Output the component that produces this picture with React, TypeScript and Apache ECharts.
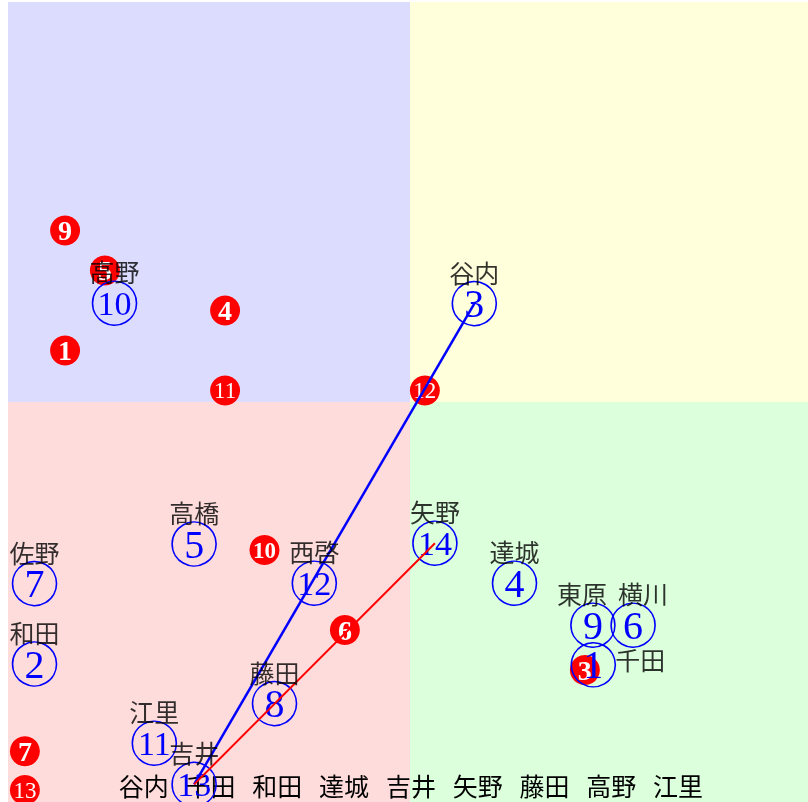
import React, { useEffect, useRef } from "react";
import * as echarts from "echarts";

// Blue (hollow circled) items
const blueNums = [10, 3, 5, 14, 7, 12, 4, 9, 6, 1, 2, 8, 11, 13];
const blueX = [2.65, 11.6, 4.63, 10.62, 0.66, 7.62, 12.6, 14.55, 15.55, 14.56, 0.66, 6.63, 3.64, 4.63];
const blueY = [12.47, 12.46, 6.45, 6.47, 5.46, 5.47, 5.47, 4.42, 4.42, 3.43, 3.45, 2.46, 1.47, 0.44];
const blueNames = ["高野", "谷内", "高橋", "矢野", "佐野", "西啓", "達城", "東原", "横川", "千田", "和田", "藤田", "江里", "吉井"];

// Red (filled circled) items
const redNums = [9, 5, 4, 1, 11, 12, 10, 6, 3, 7, 13];
const redX = [1.42, 2.41, 5.4, 1.42, 5.4, 10.37, 6.38, 8.38, 14.35, 0.42, 0.42];
const redY = [14.29, 13.29, 12.29, 11.29, 10.29, 10.29, 6.3, 4.3, 3.3, 1.27, 0.3];

// Connecting lines (by blue number): from 13 to 3 (blue), from 13 to 14 (red)
const blueLinePair = [13, 3];
const redLinePair = [13, 14];

// Bottom row words
const bottomWords = ["谷内", "千田", "和田", "達城", "吉井", "矢野", "藤田", "高野", "江里"];

// Quadrants [x0, y0, x1, y1, color]
const quadrants: [number, number, number, number, string][] = [
  [0, 10, 10, 20, "#dcdcff"],
  [10, 10, 20, 20, "#ffffdc"],
  [0, 0, 10, 10, "#ffdcdc"],
  [10, 0, 20, 10, "#dcffdc"],
];

const CJK = '"Noto Sans CJK JP", "Noto Sans CJK SC", sans-serif';
const SERIF = '"Liberation Serif", "DejaVu Serif", serif';

function bluePoint(n: number): [number, number] {
  const i = blueNums.indexOf(n);
  return [blueX[i], blueY[i]];
}

function nameOffset(name: string): [number, number] {
  if (name === "千田") return [47, -6];
  if (name === "東原") return [-11, -32];
  if (name === "横川") return [10, -32];
  return [0, -32];
}

export default function App() {
  const ref = useRef<HTMLDivElement>(null);
  useEffect(() => {
    if (!ref.current) return;
    const chart = echarts.init(ref.current, undefined, { renderer: "svg" });
    const step = 66.8;
    const firstX = 135.7;
    chart.setOption({
      animation: false,
      grid: { left: 0, right: 0, top: 0, bottom: 0 },
      xAxis: { type: "value", min: 0, max: 20, show: false },
      yAxis: { type: "value", min: 0, max: 20, show: false },
      graphic: bottomWords.map((w, k) => ({
        type: "text",
        z: 3,
        x: firstX + step * k,
        y: 783,
        style: {
          text: w,
          fontSize: 25,
          fontFamily: CJK,
          fill: "#000",
          align: "center",
          verticalAlign: "middle",
        },
      })),
      series: [
        {
          type: "scatter",
          z: 1,
          data: [],
          silent: true,
          markArea: {
            silent: true,
            data: quadrants.map((q) => [
              { coord: [q[0], q[1]], itemStyle: { color: q[4], opacity: 1 } },
              { coord: [q[2], q[3]] },
            ]),
          },
        },
        {
          type: "scatter",
          z: 2,
          symbol: "circle",
          symbolSize: 30,
          itemStyle: { color: "#ff0000", opacity: 1 },
          data: redNums.map((n, i) => ({
            value: [redX[i], redY[i]],
            label: {
              show: true,
              position: "inside",
              formatter: String(n),
              color: "#fff",
              fontFamily: SERIF,
              fontSize: n >= 10 ? 23 : 28,
              fontWeight: n <= 10 ? "bold" : "normal",
            },
          })),
        },
        {
          type: "scatter",
          z: 4,
          symbol: "circle",
          symbolSize: 44,
          itemStyle: { color: "rgba(0,0,0,0)", borderColor: "#0000ff", borderWidth: 1.6, opacity: 1 },
          data: blueNums.map((n, i) => ({
            value: [blueX[i], blueY[i]],
            label: {
              show: true,
              position: "inside",
              formatter: String(n),
              color: "#0000ff",
              fontFamily: SERIF,
              fontSize: n >= 10 ? 34 : 40,
            },
          })),
        },
        {
          type: "line",
          z: 5,
          symbol: "none",
          lineStyle: { color: "#0000ff", width: 2.5 },
          data: blueLinePair.map(bluePoint),
        },
        {
          type: "line",
          z: 5,
          symbol: "none",
          lineStyle: { color: "#ff0000", width: 2 },
          data: redLinePair.map(bluePoint),
        },
        {
          type: "scatter",
          z: 6,
          symbolSize: 1,
          itemStyle: { color: "rgba(0,0,0,0)" },
          data: blueNames.map((name, i) => ({
            value: [blueX[i], blueY[i]],
            label: {
              show: true,
              position: "inside",
              formatter: name,
              color: "#000",
              fontFamily: CJK,
              fontSize: 25,
              offset: nameOffset(name),
            },
          })),
        },
      ],
    });
    return () => chart.dispose();
  }, []);
  return (
    <div style={{ position: "fixed", left: 0, top: 0, width: 808, height: 802, overflow: "hidden" }}>
      <div ref={ref} style={{ position: "absolute", left: 8, top: 2, width: 804, height: 800 }} />
    </div>
  );
}
